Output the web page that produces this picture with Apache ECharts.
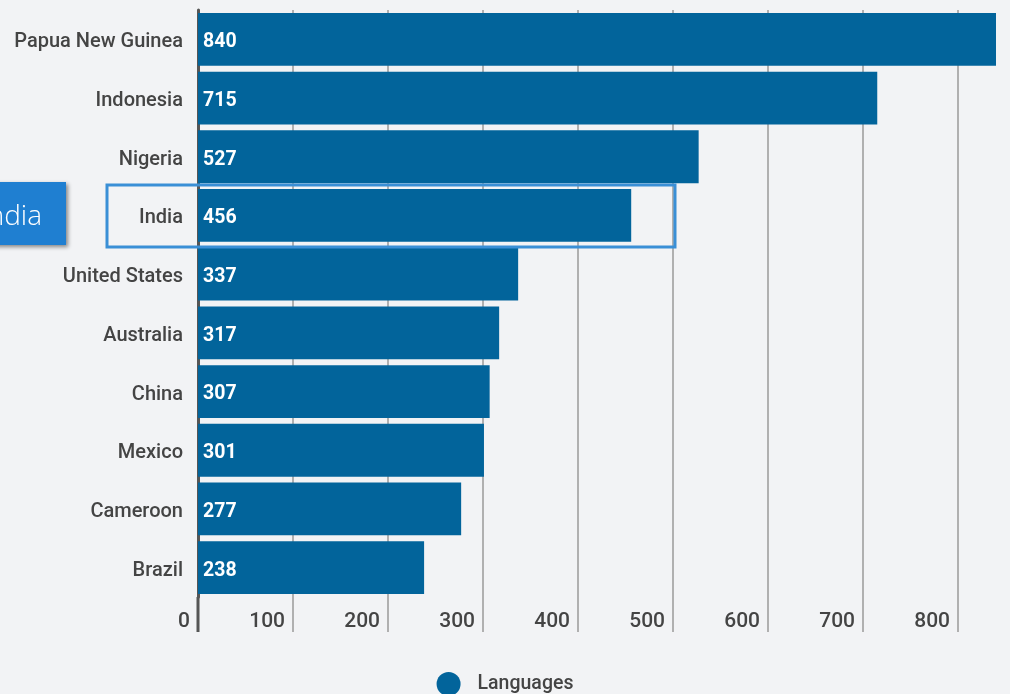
<!DOCTYPE html>
<html>
<head>
<meta charset="utf-8">
<script src="https://cdn.jsdelivr.net/npm/echarts@6/dist/echarts.min.js"></script>
<style>
  html, body { margin: 0; padding: 0; background: #f2f3f5; }
  #chart { width: 1010px; height: 694px; }
</style>
</head>
<body>
<div id="chart"></div>
<script>
// 各国语言数量
var countries = ['Papua New Guinea', 'Indonesia', 'Nigeria', 'India', 'United States', 'Australia', 'China', 'Mexico', 'Cameroon', 'Brazil'];
var languages = [840, 715, 527, 456, 337, 317, 307, 301, 277, 238];
var xTicks = [0, 100, 200, 300, 400, 500, 600, 700, 800];

var myChart = echarts.init(document.getElementById('chart'));
var option = {
  backgroundColor: '#f2f3f5',
  textStyle: {fontFamily: 'Roboto'},
  legend: {
    top: 667,
    left: 'center',
    icon: 'circle',
    itemWidth: 24,
    itemHeight: 24,
    textStyle: {fontSize: 19.5, fontWeight: 500, color: '#444', fontFamily: 'Roboto', padding: [0, 0, 0, 12]},
    data: ['Languages']
  },
  grid: {left: 198, right: 14, top: 10, bottom: 97},
  xAxis: {
    type: 'value',
    min: 0,
    max: 840,
    interval: 100,
    axisLine: {show: false},
    axisTick: {show: true, length: 35, customValues: xTicks, lineStyle: {color: '#b0b0b0', width: 2}},
    splitLine: {show: true, lineStyle: {color: '#b0b0b0', width: 2}},
    axisLabel: {
      customValues: xTicks,
      align: 'right',
      margin: 14,
      padding: [0, 8, 0, 0],
      fontSize: 21,
      fontWeight: 500,
      color: '#444',
      fontFamily: 'Roboto'
    }
  },
  yAxis: {
    type: 'category',
    inverse: true,
    data: countries,
    axisLine: {show: true, lineStyle: {color: '#555', width: 3}},
    axisTick: {show: false},
    axisLabel: {fontSize: 20, fontWeight: 500, color: '#444', margin: 15, verticalAlign: 'top', lineHeight: 6, fontFamily: 'Roboto'}
  },
  series: [{
    name: 'Languages',
    type: 'bar',
    data: languages,
    barCategoryGap: '10%',
    itemStyle: {color: '#02649b'},
    label: {
      show: true,
      position: 'insideLeft',
      distance: 5,
      offset: [0, 3],
      color: '#fff',
      fontWeight: 'bold',
      fontSize: 19.5,
      fontFamily: 'Roboto'
    }
  }],
  graphic: [
    {
      type: 'line',
      shape: {x1: 198, y1: 597, x2: 198, y2: 632},
      style: {stroke: '#555', lineWidth: 3},
      z: 50
    },
    {
      type: 'rect',
      shape: {x: 107, y: 185, width: 568, height: 62},
      style: {fill: 'none', stroke: '#3a8fd6', lineWidth: 3},
      z: 100
    },
    {
      type: 'rect',
      shape: {x: -60, y: 182, width: 126, height: 63},
      style: {fill: '#1f7fd1', shadowBlur: 4, shadowOffsetX: 2, shadowOffsetY: 2, shadowColor: 'rgba(0,0,0,0.45)'},
      z: 100
    },
    {
      type: 'text',
      x: 42,
      y: 217,
      style: {text: 'India', fill: '#fff', font: '300 28px "Open Sans"', textAlign: 'right', textVerticalAlign: 'middle'},
      z: 101
    }
  ]
};
myChart.setOption(option, true);
</script>
</body>
</html>
